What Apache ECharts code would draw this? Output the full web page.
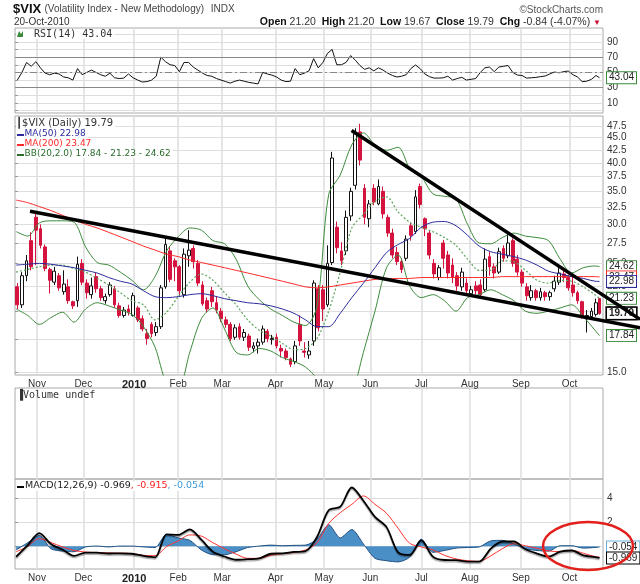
<!DOCTYPE html>
<html><head><meta charset="utf-8">
<script src="https://cdn.jsdelivr.net/npm/echarts@6/dist/echarts.min.js"></script>
<style>html,body{margin:0;padding:0;background:#fff}#c{width:640px;height:584px}</style>
</head><body><div id="c"></div>
<script>
// ---------- axis data ----------
const monthLabels = ['Nov','Dec','2010','Feb','Mar','Apr','May','Jun','Jul','Aug','Sep','Oct'];
const monthStartDay = [9,29,51,70,89,112,133,153,175,196,218,239];
const tradingDays = 253;
const priceTicks = [15.0,17.5,20.0,22.5,25.0,27.5,30.0,32.5,35.0,37.5,40.0,42.5,45.0,47.5];
const rsiGridTicks = [0,10,20,30,40,50,60,70,80,90,100];
const rsiLabelTicks = [10,30,50,70,90];
const rsiLevels = [70,50,30];
const macdGridTicks = [0,2,4];
const macdLabelTicks = [2,4];

// ---------- $VIX candles, two trading days per candle: [open, close, low, high] ----------
const cOct09 = [[22.4,20.6,20.2,22.8],[20.6,23.6,20.3,24.0],[23.6,25.3,23.0,26.0],[27.8,24.6,24.2,28.9],[31.0,29.2,24.8,31.9]];
const cNov09 = [[29.4,27.2,26.8,30.0],[27.0,24.4,24.1,27.3],[24.3,23.1,21.7,24.5],[22.9,24.1,22.6,24.6],[23.6,22.3,22.0,23.9],
  [21.9,22.7,21.6,24.2],[22.4,21.0,20.7,23.2],[20.9,20.5,20.2,21.0],[21.0,24.9,20.4,25.8],[25.0,22.9,22.6,25.5]];
const cDec09 = [[22.8,21.8,21.2,23.2],[21.6,22.5,21.2,23.4],[23.5,22.2,21.8,23.9],[22.2,21.3,21.0,22.5],[21.0,21.4,20.7,21.7],
  [21.6,22.6,21.4,22.9],[22.2,20.6,20.3,22.5],[20.5,19.6,19.4,20.8],[19.6,20.1,19.4,20.4],[20.2,19.9,19.6,20.6],[19.6,21.5,19.5,21.8]];
const cJan10 = [[20.3,19.2,19.0,20.5],[19.3,18.4,18.2,19.6],[18.0,17.6,17.1,18.4],[18.8,18.0,17.7,19.0],[18.1,18.6,17.8,19.0],
  [18.6,22.3,18.4,22.6],[22.4,27.3,22.2,28.1],[26.5,23.2,22.9,27.0],[25.3,24.6,23.0,25.6]];
const cFeb10 = [[24.6,22.0,21.4,24.8],[21.6,26.1,21.3,26.8],[25.9,26.6,24.6,29.2],[26.8,25.2,24.4,27.2],[25.0,22.8,22.5,25.4],
  [22.6,20.7,20.5,23.0],[21.0,20.2,19.9,21.3],[22.0,20.9,20.4,22.4],[20.8,20.1,19.8,21.4],[20.0,19.3,19.0,20.3]];
const cMar10 = [[19.2,18.8,18.5,19.5],[18.8,17.6,17.4,19.0],[17.7,18.5,17.5,18.8],[18.6,17.7,17.5,18.9],[17.7,18.1,17.4,18.4],
  [17.8,16.9,16.6,18.0],[16.8,17.0,16.5,17.3],[17.0,17.3,16.4,17.6],[17.3,18.4,17.1,18.7],[18.2,17.6,17.3,18.4],[17.5,17.6,17.1,17.9]];
const cApr10 = [[17.7,17.0,16.8,18.0],[16.8,16.6,16.1,17.1],[16.6,16.1,15.9,16.8],[16.0,15.6,15.4,16.1],[15.8,17.0,15.6,17.4],
  [18.8,17.4,17.0,19.6],[16.6,16.5,16.1,17.3],[16.3,16.6,16.0,17.4],[17.4,22.8,17.0,23.1],[22.2,18.5,18.2,22.6],[22.1,20.2,19.1,22.6]];
const cMay10 = [[20.6,25.0,20.4,27.2],[25.1,40.9,24.8,42.1],[29.6,26.9,26.2,30.4],[26.5,25.3,24.8,27.6],[26.5,31.0,26.0,32.0],
  [31.2,35.0,30.5,35.6],[36.0,45.8,35.3,47.0],[46.2,40.5,39.5,48.0],[35.5,31.0,30.0,36.2],[30.8,33.0,29.6,33.6]];
const cJun10 = [[35.5,33.3,32.8,36.2],[33.0,35.8,32.8,37.0],[35.0,31.5,30.8,35.8],[31.0,28.8,28.3,31.4],[28.8,26.0,25.6,29.4],
  [26.3,25.2,24.8,27.0],[25.2,24.3,23.9,25.6],[25.6,28.0,25.3,28.5],[29.8,28.5,27.8,30.2],[29.0,34.1,28.7,35.2],[35.8,32.9,32.3,36.3]];
const cJul10 = [[30.8,29.4,28.4,31.0],[28.8,26.0,25.5,29.2],[25.0,23.8,23.3,25.5],[23.4,24.5,23.1,24.8],[27.5,25.6,24.4,27.9],
  [26.0,23.9,23.3,26.5],[24.8,23.4,22.8,25.6],[23.6,22.5,22.0,24.0],[22.4,24.0,22.0,24.5],[22.8,22.0,21.5,23.3]];
const cAug10 = [[21.7,22.1,21.4,22.5],[22.5,22.0,21.6,23.0],[22.6,21.6,21.2,23.2],[22.1,25.5,21.9,26.8],[25.8,24.6,23.6,26.4],
  [24.6,23.9,23.3,25.0],[24.0,26.4,23.8,26.9],[26.8,25.6,25.2,27.2],[25.9,27.5,25.6,28.7],[27.8,25.0,24.6,28.1],[25.5,24.0,23.6,26.0]];
const cSep10 = [[24.0,22.8,22.4,24.3],[22.4,21.5,21.0,22.8],[21.3,22.0,21.0,22.6],[22.0,21.3,21.0,22.2],[21.3,21.9,21.0,22.3],
  [21.8,21.4,21.0,22.0],[21.4,21.8,21.0,22.0],[22.2,23.0,21.9,23.6],[22.9,23.9,22.6,24.5],[23.8,23.4,22.9,24.4],[23.4,22.3,22.0,23.7]];
const cOct10 = [[22.6,21.8,21.4,23.6],[21.8,21.0,20.7,22.0],[20.9,19.6,19.3,21.0],[19.3,19.6,18.1,20.1],[19.5,20.0,19.2,20.3],
  [19.7,20.8,19.5,21.2],[21.2,19.79,19.67,21.2]];

// ---------- overlays, sampled on these trading-day indexes ----------
const lineDays = [0,5,10,15,20,25,30,35,40,45,50,55,60,65,70,75,80,85,90,95,100,105,110,115,120,125,
  130,135,140,145,150,155,160,165,170,175,180,185,190,195,200,205,210,215,220,225,230,235,240,245,250,252];
const ma50 = [24.8,24.9,25.0,24.9,24.7,24.5,24.2,23.9,23.4,23.0,22.7,22.0,21.4,21.3,21.4,21.6,21.7,21.5,21.2,21.0,20.8,20.7,20.5,20.2,19.8,19.2,
  18.6,18.6,19.8,21.3,22.8,24.5,26.3,27.3,28.1,29.6,30.3,30.4,29.8,28.5,27.1,26.4,26.1,25.8,25.4,24.8,24.1,23.8,23.5,23.3,23.0,22.98];
const ma200 = [33.6,33.2,32.6,32.0,31.3,30.6,30.0,29.5,28.9,28.3,27.7,27.1,26.6,26.1,25.8,25.4,25.1,24.8,24.5,24.2,23.9,23.6,23.3,23.0,22.7,22.4,
  22.3,22.4,22.6,22.8,23.0,23.2,23.3,23.3,23.3,23.4,23.4,23.4,23.4,23.4,23.4,23.4,23.5,23.5,23.5,23.5,23.5,23.5,23.5,23.5,23.5,23.47];
const bbUpper = [29.0,28.4,30.2,30.5,30.5,30.3,27.0,25.1,24.8,24.0,23.1,22.1,23.5,26.5,28.3,29.5,29.2,27.8,27.4,25.5,22.5,21.1,20.2,19.6,19.0,18.7,
  20.5,34.5,37.8,43.5,46.0,43.5,42.4,43.0,39.0,37.5,34.6,34.2,33.8,30.0,27.5,27.4,28.2,28.8,28.4,28.2,27.8,25.5,23.9,24.5,24.7,24.62];
const bbMiddle = [24.0,24.3,24.6,24.8,24.8,24.4,24.0,23.3,22.6,21.8,21.0,20.6,19.2,19.9,21.4,22.9,23.8,23.1,21.8,20.6,19.2,18.3,17.8,17.2,16.7,16.8,
  17.6,20.0,24.0,29.5,31.4,33.4,34.1,31.8,30.3,29.6,29.0,28.2,27.2,25.5,24.2,24.2,25.3,25.2,24.2,23.1,22.8,23.1,23.0,22.4,21.6,21.23];
const bbLower = [20.2,19.6,18.8,19.4,19.9,19.0,20.2,20.8,20.5,20.1,19.7,18.6,16.9,14.3,14.0,16.5,19.3,20.3,18.4,16.5,16.3,16.8,16.6,16.1,15.8,15.4,
  14.6,13.5,12.9,13.6,16.5,20.0,24.5,26.0,22.5,21.3,21.6,21.0,20.0,21.3,21.6,22.1,21.6,21.0,20.0,19.8,20.0,20.3,20.6,19.5,18.3,17.84];
// hand-drawn trend lines: [trading-day index, price]
const trendLower = [[6,31.9],[269.5,18.5]];
const trendUpper = [[144.9,46.5],[269.5,19.25]];

// ---------- RSI(14), one value per candle ----------
const rsi14 = [40,50,63,58,64,56,49,47,49,48, 44,43,40,55,47,50,53,50,47,45,
  49,43,42,42.6,48,43,40,37.5,38,40, 45,70,64,60,59,51,63,63,57,53,
  49,46,45,42,40,38,36,38.5,40,38.5, 37,36,35,50,48,46.5,44,40,38,38.5,
  55,47,49,52,68,56,63,75,80,60, 60,63,72,66,59,54,56,52,56,53,
  49,46,44,45,47,55,59.7,55,48,44.5, 42.6,42.6,43,45,40,42,43.6,40,41,42,
  50,56,57,51,57,58,59,50,46.6,46, 42.6,43,43.5,44.5,45.3,48,50.5,49.5,51,51.8,
  47,44,38,38.5,41,46,43.04];

// ---------- MACD(12,26,9) on lineDays ----------
const macdLine = [-0.87,0.1,1.1,0.2,-0.27,-0.8,-0.52,-0.53,-0.6,-0.58,-0.62,-0.8,-0.92,1.0,0.95,1.42,0.55,-0.45,-0.85,-1.12,-1.07,-1.0,-0.62,-0.58,-0.47,-0.4,
  0.8,3.0,3.3,4.9,3.8,2.45,1.6,-0.5,-0.72,0.5,-0.86,-1.14,-1.15,-1.28,-1.28,-0.2,0.4,0.4,-0.25,-0.6,-0.85,-0.45,-0.35,-0.75,-0.9,-0.969];
const macdSignal = [-0.45,0.0,0.65,0.32,-0.05,-0.35,-0.48,-0.53,-0.55,-0.57,-0.6,-0.75,-0.78,-0.02,0.45,0.95,0.85,0.3,-0.2,-0.65,-1.0,-1.0,-0.75,-0.62,-0.52,-0.3,
  0.3,1.9,2.8,3.5,4.2,3.5,2.75,1.5,0.25,-0.05,-0.3,-0.75,-1.05,-1.2,-1.25,-0.8,-0.2,0.22,0.05,-0.17,-0.38,-0.45,-0.33,-0.58,-0.85,-0.915];
const macdHist = [-0.3,0.3,0.9,-0.2,-0.4,-0.45,-0.05,0.02,-0.05,0.02,0.02,-0.05,-0.1,1.0,0.7,0.5,-0.3,-0.7,-0.7,-0.45,-0.1,0.02,0.1,0.05,0.08,0.1,
  0.6,1.8,0.7,1.4,0.2,-1.0,-1.2,-1.3,-0.9,0.6,-0.5,-0.35,-0.15,-0.1,-0.05,0.45,0.5,0.2,-0.2,-0.35,-0.4,0.05,0.05,-0.15,-0.1,-0.054];

// ---------- build ----------
const L = Math.log10;
const SANS = '"Liberation Sans", Arial, sans-serif';
const VER = '"DejaVu Sans", Verdana, sans-serif';
const MONO = '"DejaVu Sans Mono", monospace';
const candles = [].concat(cOct09,cNov09,cDec09,cJan10,cFeb10,cMar10,cApr10,cMay10,cJun10,cJul10,cAug10,cSep10,cOct10);
const binCenter = k => (2*k + Math.min(2*k+2, tradingDays)) / 2;
const candleData = candles.map((r,k) => [binCenter(k), L(r[0]), L(r[1]), L(r[2]), L(r[3])]);
const logPts = arr => lineDays.map((d,i) => [d + 0.5, L(arr[i])]);
const linPts = arr => lineDays.map((d,i) => [d + 0.5, arr[i]]);
const rsiData = rsi14.map((v,k) => [binCenter(k), v]);
const trendPts = t => t.map(p => [p[0] + 0.5, L(p[1])]);
const monthX = monthStartDay.map(d => d + 0.5);

// layout: panels are 588px wide for tradingDays+1 day slots; overlay grids run on to the page edge
const PANEL_W = 588, OVER_W = 625;
const axisMax = tradingDays + 1;
const overMax = axisMax * OVER_W / PANEL_W;
const panels = [{top:28, height:85}, {top:116, height:259}, {top:388, height:91}, {top:479, height:90}];
const grids = panels.map(p => ({left:15, right:640-15-PANEL_W, top:p.top, height:p.height, show:true,
  borderColor:'#aaa', borderWidth:1, backgroundColor:'transparent'}))
  .concat([0,1,3].map(i => ({left:15, right:640-15-OVER_W, top:panels[i].top, height:panels[i].height, show:false})));

function xAx(gi, labels) {
  return {type:'value', gridIndex:gi, min:0, max:axisMax,
    axisLine:{show:false}, axisTick:{show:false, customValues:monthX},
    splitLine:{show:true, lineStyle:{color:'#dedede', width:1.5}},
    axisLabel:{show:labels, customValues:monthX, margin:4, fontSize:10, fontFamily:SANS, color:'#333',
      formatter: v => { const i = monthX.findIndex(m => Math.abs(m - v) < 0.01); const s = monthLabels[i] || '';
        return s === '2010' ? '{b|2010}' : s; },
      rich:{b:{fontWeight:'bold', fontSize:11, fontFamily:SANS, color:'#222'}}}};
}
function yAx(gi, min, max, gridTicks, labelTicks, fmt) {
  return {type:'value', gridIndex:gi, position:'right', min, max,
    axisLine:{show:false},
    axisTick:{show:!!gridTicks, length:3, customValues:gridTicks || [], lineStyle:{color:'#999'}},
    splitLine:{show:!!gridTicks, lineStyle:{color:'#dedede', width:1}},
    axisLabel:{show:!!labelTicks, customValues:labelTicks || [], formatter:fmt, fontSize:10, fontFamily:SANS, color:'#333', margin:4}};
}
const hx = gi => ({type:'value', gridIndex:gi, min:0, max:overMax, show:false});
const hy = (gi, min, max) => ({type:'value', gridIndex:gi, min, max, show:false});

function tag(yv, text, color, bold) {
  return [{coord:[axisMax - 0.5, yv], lineStyle:{color:'rgba(0,0,0,0)', width:1, opacity:1},
    label:{show:true, opacity:1, position:'end', distance:4, formatter:text, color:'#222', fontSize:10, fontFamily:SANS,
      fontWeight: bold ? 'bold' : 'normal', backgroundColor:'#fff', borderColor:color, borderWidth: bold ? 1.6 : 1,
      padding:[1,2,0,2]}},
    {coord:[axisMax, yv]}];
}
function level(yv, type) {
  return [{coord:[0, yv], lineStyle:{color:'#888', width:1, type}, label:{show:false}}, {coord:[axisMax, yv]}];
}
function marks(items) { return {silent:true, symbol:['none','none'], animation:false, data:items}; }
function line(name, xi, yi, data, color, width, extra) {
  return Object.assign({type:'line', name, xAxisIndex:xi, yAxisIndex:yi, data, showSymbol:false, symbol:'none',
    lineStyle:{color, width}, itemStyle:{color}, animation:false, z:3}, extra || {});
}

const pMin = L(14.84), pMax = L(49.77);
const rMin = -3, rMax = 108, mMin = -1.89, mMax = 5.61;

const option = {
  animation:false,
  grid: grids,
  xAxis: [xAx(0,false), xAx(1,true), xAx(2,false), xAx(3,true), hx(4), hx(5), hx(6)],
  yAxis: [
    yAx(0, rMin, rMax, rsiGridTicks, rsiLabelTicks, v => String(v)),
    yAx(1, pMin, pMax, priceTicks.map(L), priceTicks.map(L), v => Math.pow(10, v).toFixed(1)),
    {type:'value', gridIndex:2, position:'right', min:0, max:1, axisLine:{show:false}, axisTick:{show:false}, splitLine:{show:false}, axisLabel:{show:false}},
    yAx(3, mMin, mMax, macdGridTicks, macdLabelTicks, v => String(v)),
    hy(4, rMin, rMax), hy(5, pMin, pMax), hy(6, mMin, mMax)
  ],
  series: [
    line('RSI', 4, 4, rsiData, '#111', 1, {markLine: marks([
      level(rsiLevels[0], 'solid'), level(rsiLevels[2], 'solid'), level(rsiLevels[1], [7,3,2,3]),
      tag(rsi14[rsi14.length-1], '43.04', '#3a8a3a', false)])}),
    {type:'candlestick', name:'$VIX', xAxisIndex:5, yAxisIndex:5, data:candleData, barWidth:3.3, z:2, animation:false,
      itemStyle:{color:'#ffffff', color0:'#d4143e', borderColor:'#111', borderColor0:'#d4143e', borderWidth:1}},
    line('BBup', 5, 5, logPts(bbUpper), '#3d8b3d', 1, {smooth:0.3}),
    line('BBmid', 5, 5, logPts(bbMiddle), '#5ca35c', 1, {smooth:0.3, lineStyle:{color:'#5ca35c', width:1.2, type:[2,2]}}),
    line('BBlow', 5, 5, logPts(bbLower), '#3d8b3d', 1, {smooth:0.3}),
    line('MA200', 5, 5, logPts(ma200), '#ff2a2a', 1, {smooth:0.3}),
    line('MA50', 5, 5, logPts(ma50), '#2b2b9c', 1, {smooth:0.3}),
    line('trendUpper', 5, 5, trendPts(trendUpper), '#000', 3.5, {z:5}),
    line('trendLower', 5, 5, trendPts(trendLower), '#000', 3.5, {z:6, markLine: marks([
      tag(L(24.62), '24.62', '#3d8b3d', false),
      tag(L(23.47), '23.47', '#ff2a2a', false),
      tag(L(22.98), '22.98', '#2b2b9c', false),
      tag(L(21.23), '21.23', '#3d8b3d', false),
      tag(L(19.79), '19.79', '#000', true),
      tag(L(17.84), '17.84', '#3d8b3d', false)])}),
    line('hist', 6, 6, linPts(macdHist), '#1f4f7f', 1, {smooth:0.25, z:2, areaStyle:{color:'#4b8fc7', opacity:1, origin:0}}),
    line('signal', 6, 6, linPts(macdSignal), '#ff3030', 1, {smooth:0.3}),
    line('macd', 6, 6, linPts(macdLine), '#000', 1.8, {smooth:0.3, z:4,
      lineStyle:{color:'#000', width:1.8, shadowColor:'rgba(0,0,0,0.35)', shadowBlur:1, shadowOffsetY:1.5},
      markLine: marks([tag(macdHist[macdHist.length-1], '-0.054', '#6ab0de', false),
                       tag(macdLine[macdLine.length-1], '-0.969', '#000', false)])})
  ],
  graphic: [
    {type:'text', left:13, top:3, style:{text:'{t|$VIX} {s|(Volatility Index - New Methodology)}  {s|INDX}',
      rich:{t:{font:'bold 13px '+SANS, fill:'#111'}, s:{font:'10px '+SANS, fill:'#444'}}}},
    {type:'text', left:14, top:17, style:{text:'20-Oct-2010', font:'10px '+SANS, fill:'#333'}},
    {type:'text', right:37, top:5, style:{text:'\u00A9StockCharts.com', font:'10px '+SANS, fill:'#555'}},
    {type:'text', right:39, top:17, style:{
      text:'{b|Open} 21.20  {b|High} 21.20  {b|Low} 19.67  {b|Close} 19.79  {b|Chg} -0.84 (-4.07%) {r|\u25BC}',
      font:'10.5px '+SANS, fill:'#333', rich:{b:{font:'bold 10.5px '+SANS, fill:'#111'}, r:{font:'8px '+SANS, fill:'#c8102e'}}}},
    // panel labels
    {type:'text', left:16, top:29, z:20, style:{text:'   RSI(14) 43.04', font:'10px '+MONO, fill:'#333', backgroundColor:'#fff', padding:[0,2,0,0]}},
    {type:'polygon', z:21, shape:{points:[[17,37],[19,31],[21,34],[23,31],[23,37]]}, style:{fill:'#3a8a3a'}},
    {type:'text', left:16, top:118, z:20, style:{text:'\u2503$VIX (Daily) 19.79', font:'10px '+VER, fill:'#333', backgroundColor:'#fff', padding:[0,2,0,0]}},
    {type:'text', left:16, top:129, z:20, style:{text:'   MA(50) 22.98', font:'9px '+VER, fill:'#2b2b9c', backgroundColor:'#fff', padding:[0,2,0,0]}},
    {type:'text', left:16, top:139, z:20, style:{text:'   MA(200) 23.47', font:'9px '+VER, fill:'#ff2a2a', backgroundColor:'#fff', padding:[0,2,0,0]}},
    {type:'text', left:16, top:149, z:20, style:{text:'   BB(20,2.0) 17.84 - 21.23 - 24.62', font:'9px '+VER, fill:'#2d6b2d', backgroundColor:'#fff', padding:[0,2,0,0]}},
    {type:'rect', z:21, shape:{x:17, y:134, width:7, height:2}, style:{fill:'#2b2b9c'}},
    {type:'rect', z:21, shape:{x:17, y:144, width:7, height:2}, style:{fill:'#ff2a2a'}},
    {type:'rect', z:21, shape:{x:17, y:154, width:7, height:2}, style:{fill:'#2d6b2d'}},
    {type:'text', left:17, top:390, z:20, style:{text:'\u2590Volume undef', font:'10px '+MONO, fill:'#333'}},
    {type:'text', left:16, top:481, z:20, style:{text:'{k|   MACD(12,26,9) -0.969}{r|, -0.915}{u|, -0.054}', backgroundColor:'#fff', padding:[0,2,0,0],
      rich:{k:{font:'9.5px '+VER, fill:'#222'}, r:{font:'9.5px '+VER, fill:'#ff2020'}, u:{font:'9.5px '+VER, fill:'#3d9ad6'}}}},
    {type:'rect', z:21, shape:{x:17, y:486, width:7, height:2}, style:{fill:'#000'}},
    // red annotation ellipse
    {type:'ellipse', z:100, shape:{cx:588, cy:546, rx:45, ry:24}, style:{fill:'none', stroke:'#e3201b', lineWidth:2.5}}
  ]
};
const chart = echarts.init(document.getElementById('c'), null, {renderer:'canvas'});
chart.setOption(option);
</script></body></html>
